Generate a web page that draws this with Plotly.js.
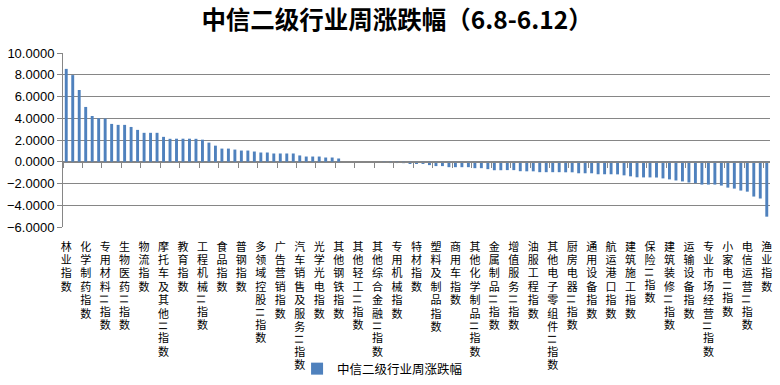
<!DOCTYPE html>
<html><head><meta charset="utf-8">
<script src="https://cdn.plot.ly/plotly-3.0.1.min.js"></script>
<style>
html,body{margin:0;padding:0;background:#fff;}
#chart{width:780px;height:385px;}
#chart g.xtick text{writing-mode:vertical-rl;text-anchor:start !important;letter-spacing:2.4px;}
</style>
</head><body><div id="chart"></div>
<script>
const chartTitle = '中信二级行业周涨跌幅（6.8-6.12）';
const seriesName = '中信二级行业周涨跌幅';

const categories = [
  '林业指数','中成药指数','中药饮片指数',
  '化学制药指数','其他医药医疗指数','化学原料指数',
  '专用材料II指数','电子设备指数','计算机软件指数',
  '生物医药II指数','互联网媒体指数','元器件指数',
  '物流指数','畜牧业指数','种植业指数',
  '摩托车及其他II指数','乘用车指数','汽车零部件II指数',
  '教育指数','文娱轻工II指数','旅游及休闲指数',
  '工程机械II指数','电气设备指数','新能源动力系统指数',
  '食品指数','饮料指数','酒类指数',
  '普钢指数','稀有金属指数','有色金属冶炼指数',
  '多领域控股II指数','通信设备制造指数','计算机设备指数',
  '广告营销指数','传统媒体指数','综合服务II指数',
  '汽车销售及服务II指数','航空军工指数','电源设备指数',
  '光学光电指数','照明电工及其他指数','视听器材指数',
  '其他钢铁指数','农产品加工指数','农业服务指数',
  '其他轻工II指数','包装印刷II指数','造纸II指数',
  '其他综合金融II指数','信托及其他指数','证券II指数',
  '专用机械指数','化学纤维指数','化肥农药指数',
  '特材指数','橡胶及制品指数','煤炭化工指数',
  '塑料及制品指数','品牌服饰指数','纺织制造指数',
  '商用车指数','白色家电指数','家居指数',
  '其他化学制品II指数','水泥指数','玻璃指数',
  '金属制品II指数','其他建材II指数','建筑设计及服务II指数',
  '增值服务II指数','石油化工指数','石油开采指数',
  '油服工程指数','煤炭开采洗选指数','电力指数',
  '其他电子零组件II指数','燃气指数','水务指数',
  '厨房电器II指数','环保及公用事业指数','一般零售指数',
  '通用设备指数','专营连锁指数','贸易II指数',
  '航运港口指数','电商及其他指数','酒店及餐饮指数',
  '建筑施工指数','公路铁路指数','航空机场指数',
  '保险II指数','银行指数','多元金融指数',
  '建筑装修II指数','房地产开发指数','物业服务指数',
  '运输设备指数','资本市场指数','医药流通指数',
  '专业市场经营II指数','医疗服务指数','其他家电II指数',
  '小家电II指数','饲料指数','园区开发指数',
  '电信运营II指数','装饰园林指数','其他交运设备指数',
  '渔业指数'
];

const weeklyChange = [
  8.54, 7.97, 6.60,
  5.04, 4.21, 4.00,
  3.97, 3.48, 3.39,
  3.39, 3.20, 2.93,
  2.66, 2.66, 2.66,
  2.29, 2.11, 2.12,
  2.12, 2.12, 2.11,
  2.03, 1.76, 1.48,
  1.21, 1.21, 1.12,
  1.03, 1.03, 0.94,
  0.85, 0.85, 0.76,
  0.76, 0.76, 0.76,
  0.58, 0.48, 0.48,
  0.48, 0.39, 0.39,
  0.30, 0.00, 0.00,
  0.00, 0.00, 0.00,
  0.00, -0.11, -0.12,
  -0.12, -0.13, -0.21,
  -0.21, -0.20, -0.31,
  -0.40, -0.40, -0.50,
  -0.50, -0.50, -0.50,
  -0.59, -0.59, -0.68,
  -0.78, -0.78, -0.77,
  -0.77, -0.87, -0.88,
  -0.88, -0.96, -0.96,
  -0.96, -0.96, -0.97,
  -0.97, -1.06, -1.06,
  -1.06, -1.15, -1.15,
  -1.15, -1.16, -1.25,
  -1.34, -1.43, -1.44,
  -1.44, -1.45, -1.53,
  -1.62, -1.72, -1.81,
  -1.91, -1.97, -2.10,
  -2.10, -2.10, -2.19,
  -2.38, -2.47, -2.65,
  -2.75, -3.20, -3.38,
  -5.05
];

const yTickValues = [-6, -4, -2, 0, 2, 4, 6, 8, 10];
const labelEvery = 3;

const shownCats = categories.filter((c, i) => i % labelEvery === 0);

const gridColor = '#868686';
const barColor = '#4F81BD';

const traces = [
  {
    type: 'bar', x: categories, y: weeklyChange, name: seriesName,
    marker: {color: barColor}, xaxis: 'x', yaxis: 'y', hoverinfo: 'x+y'
  },
  {
    type: 'scatter', mode: 'markers', x: categories, y: weeklyChange,
    marker: {opacity: 0, size: 1}, xaxis: 'x2', yaxis: 'y',
    showlegend: false, hoverinfo: 'skip'
  }
];

const nCat = categories.length;
const layout = {
  width: 780, height: 385,
  paper_bgcolor: '#fff', plot_bgcolor: '#fff',
  margin: {l: 63, r: 10, t: 53, b: 158, autoexpand: false},
  title: {
    text: '<b>' + chartTitle + '</b>',
    font: {family: 'Noto Sans CJK SC', size: 24.5, color: '#000'},
    x: 0.509, xanchor: 'center', y: 0.947, yanchor: 'middle'
  },
  bargap: 0.55,
  showlegend: true,
  legend: {
    orientation: 'h', x: 0.452, xanchor: 'center', y: -0.73, yanchor: 'top',
    bgcolor: 'rgba(0,0,0,0)',
    font: {family: 'Noto Sans CJK SC', size: 12.5, color: '#000'},
    itemwidth: 30
  },
  xaxis: {
    type: 'category', range: [-0.5, nCat - 0.5],
    tickmode: 'array', tickvals: shownCats, ticktext: shownCats,
    tickangle: 0, ticks: '', showline: false, showgrid: false, zeroline: false,
    ticklabelstandoff: 2,
    tickfont: {family: 'Noto Sans CJK SC', size: 11, color: '#000'},
    automargin: false, fixedrange: true
  },
  xaxis2: {
    type: 'category', overlaying: 'x', anchor: 'free', position: 0.375,
    range: [-0.5, nCat - 0.5],
    showline: true, linecolor: gridColor, linewidth: 1,
    ticks: 'outside', tickson: 'boundaries', ticklen: 5, tickcolor: gridColor, tickwidth: 1,
    showticklabels: false, showgrid: false, zeroline: false, automargin: false
  },
  yaxis: {
    range: [-6, 10], tickmode: 'array', tickvals: yTickValues, tickformat: '.4f',
    showgrid: true, gridcolor: gridColor, gridwidth: 1,
    zeroline: true, zerolinecolor: gridColor, zerolinewidth: 1,
    showline: true, linecolor: gridColor, linewidth: 1,
    ticks: 'outside', ticklen: 5, tickcolor: gridColor,
    tickfont: {family: 'Liberation Sans', size: 13, color: '#000'},
    automargin: false
  }
};

Plotly.newPlot('chart', traces, layout, {displayModeBar: false, staticPlot: true});
</script>
</body></html>
